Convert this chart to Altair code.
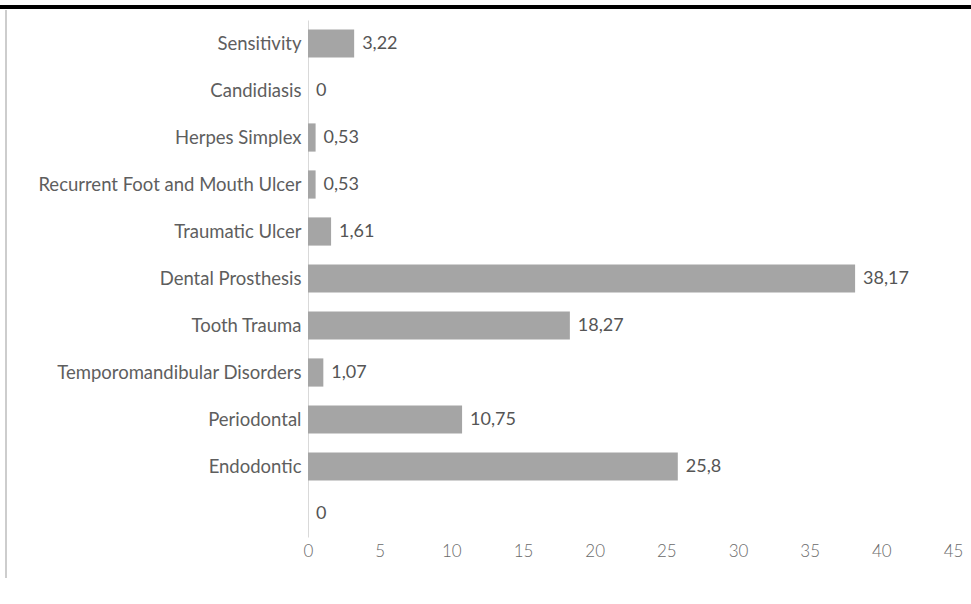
import altair as alt
import pandas as pd

categories = ["Sensitivity", "Candidiasis", "Herpes Simplex", "Recurrent Foot and Mouth Ulcer",
              "Traumatic Ulcer", "Dental Prosthesis", "Tooth Trauma",
              "Temporomandibular Disorders", "Periodontal", "Endodontic", " "]
values = [3.22, 0, 0.53, 0.53, 1.61, 38.17, 18.27, 1.07, 10.75, 25.8, 0]
value_labels = ["3,22", "0", "0,53", "0,53", "1,61", "38,17", "18,27", "1,07", "10,75", "25,8", "0"]
x_ticks = [0, 5, 10, 15, 20, 25, 30, 35, 40, 45]

df = pd.DataFrame({"cat": categories, "val": values, "lab": value_labels})

FONT = "Lato"

y_enc = alt.Y("cat:N", sort=categories, title=None,
              scale=alt.Scale(paddingInner=0.4, paddingOuter=0.2),
              axis=alt.Axis(domainColor="#d9d9d9", ticks=False, labelPadding=7,
                            labelFont=FONT, labelFontSize=18.5, labelColor="#5e5e5e",
                            labelLimit=400))
x_enc = alt.X("val:Q", title=None,
              scale=alt.Scale(domain=[0, 45], nice=False),
              axis=alt.Axis(values=x_ticks, grid=False, domain=False, ticks=False,
                            labelFont=FONT, labelFontSize=17, labelColor="#6a6a6a",
                            labelFontWeight=300, labelPadding=6, labelFlush=False))

bars = alt.Chart(df).mark_bar(color="#a5a5a5").encode(x=x_enc, y=y_enc)
texts = alt.Chart(df).mark_text(align="left", dx=8, font=FONT, fontSize=18,
                                color="#555555").encode(x="val:Q", y=alt.Y("cat:N", sort=categories), text="lab:N")

top_line = alt.Chart(df).mark_rule(color="#000000", strokeWidth=3).encode(
    x=alt.value(-308), x2=alt.value(663), y=alt.value(-13))
left_line = alt.Chart(df).mark_rule(color="#cccccc", strokeWidth=1.5).encode(
    x=alt.value(-302), y=alt.value(-10), y2=alt.value(558))

chart = alt.layer(top_line, left_line, bars, texts).properties(
    width=645, height=517,
    background="white",
    autosize=alt.AutoSizeParams(type="none"),
    padding={"left": 308, "top": 20, "right": 18, "bottom": 67},
).configure_view(strokeWidth=0)

chart.save("out.html", embed_options={"renderer": "svg", "actions": False})
